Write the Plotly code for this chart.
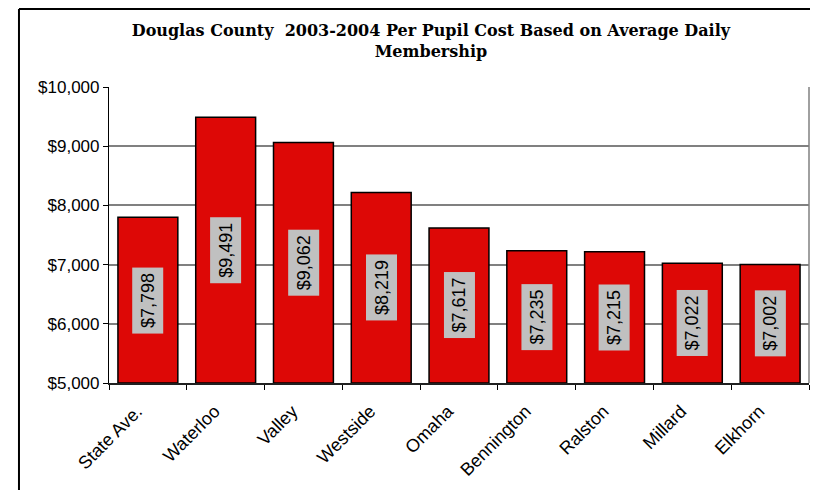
import plotly.graph_objects as go

categories = ["State Ave.", "Waterloo", "Valley", "Westside", "Omaha",
              "Bennington", "Ralston", "Millard", "Elkhorn"]
costs = [7798, 9491, 9062, 8219, 7617, 7235, 7215, 7022, 7002]
y_ticks = [5000, 6000, 7000, 8000, 9000, 10000]
y_tick_labels = ["$5,000", "$6,000", "$7,000", "$8,000", "$9,000", "$10,000"]
base = 5000

fig = go.Figure()
fig.add_trace(go.Bar(
    x=categories, y=[c - base for c in costs], base=base,
    marker=dict(color="#dd0806", line=dict(color="#000000", width=1.5)),
    hoverinfo="skip",
))

for cat, v in zip(categories, costs):
    fig.add_annotation(
        x=cat, y=(base + v) / 2, xref="x", yref="y",
        text=f"${v:,}", textangle=-90, showarrow=False,
        bgcolor="#c0c0c0", borderpad=5,
        font=dict(family="Liberation Sans, Arial", size=18, color="#000000"),
    )

fig.update_layout(
    width=818, height=490,
    margin=dict(l=101, r=17, t=79, b=115),
    paper_bgcolor="#ffffff", plot_bgcolor="#ffffff",
    bargap=0.23, showlegend=False,
    title=dict(
        text="Douglas County  2003-2004 Per Pupil Cost Based on Average Daily<br>Membership",
        x=0.517, xanchor="center", xref="container",
        y=0.943, yanchor="middle", yref="container",
        font=dict(family="DejaVu Serif", size=16, color="#000000", weight="bold"),
    ),
)
fig.update_xaxes(
    type="category", tickangle=-45, tickson="boundaries", ticks="outside",
    ticklen=5, tickcolor="#000000",
    ticklabelshift=-11, ticklabelstandoff=9,
    showline=True, linecolor="#202020", linewidth=1.5, mirror=False,
    showgrid=False,
    tickfont=dict(family="Liberation Sans, Arial", size=18, color="#000000"),
)
fig.update_yaxes(
    range=[5000, 10000], tickvals=y_ticks, ticktext=y_tick_labels,
    ticks="outside", ticklen=5, tickcolor="#000000",
    showline=True, linecolor="#000000", linewidth=1.2, mirror=False,
    showgrid=True, gridcolor="#808080", gridwidth=1.5,
    zeroline=False,
    tickfont=dict(family="Liberation Sans, Arial", size=17, color="#000000"),
)
# right border of plot area
fig.add_shape(type="line", xref="paper", yref="paper", x0=1, x1=1, y0=0, y1=1,
              line=dict(color="#808080", width=1.5))
# outer chart frame (top and left edges)
fig.add_shape(type="line", xref="paper", yref="paper", x0=-0.1286, x1=1.03,
              y0=1.2635, y1=1.2635, line=dict(color="#000000", width=2))
fig.add_shape(type="line", xref="paper", yref="paper", x0=-0.1286, x1=-0.1286,
              y0=-0.45, y1=1.2635, line=dict(color="#000000", width=2))

fig.write_html("out.html")
